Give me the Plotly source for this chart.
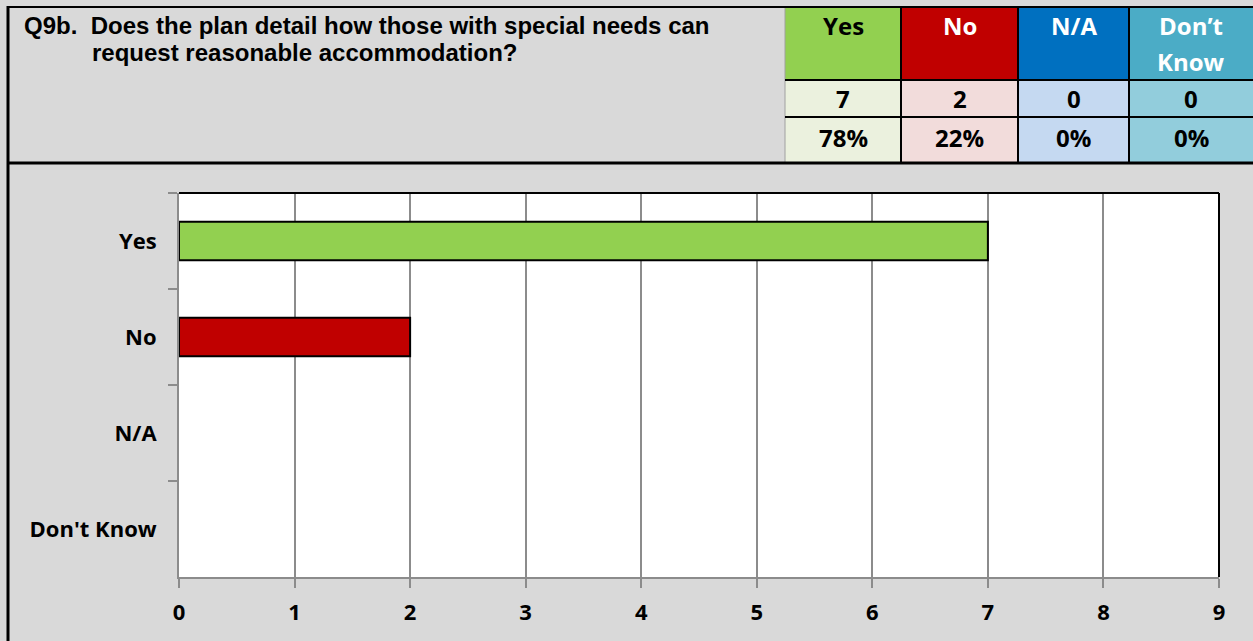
import plotly.graph_objects as go

categories = ["Yes", "No", "N/A", "Don't Know"]
counts = [7, 2, 0, 0]
percent_labels = ["78%", "22%", "0%", "0%"]
header_lines = [["Yes"], ["No"], ["N/A"], ["Don’t", "Know"]]
bar_colors = ["#92D050", "#C00000", "#0070C0", "#4BACC6"]
header_text_colors = ["#000000", "#FFFFFF", "#FFFFFF", "#FFFFFF"]
light_colors = ["#EBF1DE", "#F2DCDB", "#C5D9F1", "#92CDDC"]
title_line1 = "Q9b.  Does the plan detail how those with special needs can"
title_line2 = "request reasonable accommodation?"

W, H = 1253, 641
L, R, T, B = 179, 1219, 193, 577
TABLE_FONT = "Open Sans"


def px(x):
    return (x - L) / (R - L)


def py(y):
    return (B - y) / (B - T)


fig = go.Figure()
fig.add_trace(go.Bar(
    y=categories, x=counts, orientation="h",
    marker=dict(color=bar_colors, line=dict(color="#000000",
                                            width=[2 if c > 0 else 0 for c in counts])),
    width=0.4, hoverinfo="skip",
))

shapes = []
anns = []
col_edges = [785, 901, 1018, 1129, 1260]
row_edges = [7, 80, 117, 163]
for i in range(4):
    x0, x1 = col_edges[i], col_edges[i + 1]
    shapes.append(dict(type="rect", xref="paper", yref="paper", x0=px(x0), x1=px(x1),
                       y0=py(row_edges[1]), y1=py(row_edges[0]), fillcolor=bar_colors[i],
                       line=dict(width=0), layer="below"))
    for r in (1, 2):
        shapes.append(dict(type="rect", xref="paper", yref="paper", x0=px(x0), x1=px(x1),
                           y0=py(row_edges[r + 1]), y1=py(row_edges[r]), fillcolor=light_colors[i],
                           line=dict(width=0), layer="below"))
    xc = (x0 + min(x1, 1253)) / 2
    for j, line in enumerate(header_lines[i]):
        anns.append(dict(text=line, x=px(xc), y=py(25 + 36 * j), xref="paper", yref="paper",
                         xanchor="center", yanchor="middle", showarrow=False,
                         font=dict(family=TABLE_FONT, size=24, color=header_text_colors[i],
                                   weight="bold")))
    anns.append(dict(text=str(counts[i]), x=px(xc), y=py(99), xref="paper", yref="paper",
                     xanchor="center", yanchor="middle", showarrow=False,
                     font=dict(family=TABLE_FONT, size=24, color="#000000", weight="bold")))
    anns.append(dict(text=percent_labels[i], x=px(xc), y=py(138), xref="paper", yref="paper",
                     xanchor="center", yanchor="middle", showarrow=False,
                     font=dict(family=TABLE_FONT, size=24, color="#000000", weight="bold")))

for xe in col_edges[1:4]:
    shapes.append(dict(type="line", xref="paper", yref="paper", x0=px(xe), x1=px(xe),
                       y0=py(163), y1=py(7), line=dict(color="#000000", width=2)))
shapes.append(dict(type="line", xref="paper", yref="paper", x0=px(785), x1=px(785),
                   y0=py(163), y1=py(7), line=dict(color="#A0A0A0", width=1)))
for ye in (80, 117):
    shapes.append(dict(type="line", xref="paper", yref="paper", x0=px(785), x1=px(1260),
                       y0=py(ye), y1=py(ye), line=dict(color="#000000", width=2)))
shapes.append(dict(type="line", xref="paper", yref="paper", x0=px(7), x1=px(1260),
                   y0=py(7), y1=py(7), line=dict(color="#000000", width=2)))
shapes.append(dict(type="line", xref="paper", yref="paper", x0=px(7), x1=px(1260),
                   y0=py(163), y1=py(163), line=dict(color="#000000", width=3)))
shapes.append(dict(type="line", xref="paper", yref="paper", x0=px(8), x1=px(8),
                   y0=py(645), y1=py(6), line=dict(color="#000000", width=3)))
shapes.append(dict(type="line", xref="paper", yref="paper", x0=0, x1=1, y0=1, y1=1,
                   line=dict(color="#000000", width=2)))
shapes.append(dict(type="line", xref="paper", yref="paper", x0=1, x1=1, y0=0, y1=1,
                   line=dict(color="#000000", width=2)))

anns.append(dict(text=title_line1, x=px(22), y=py(25), xref="paper", yref="paper",
                 xanchor="left", yanchor="middle", showarrow=False,
                 font=dict(family="Liberation Sans", size=24, color="#000000", weight="bold")))
anns.append(dict(text=title_line2, x=px(90), y=py(52), xref="paper", yref="paper",
                 xanchor="left", yanchor="middle", showarrow=False,
                 font=dict(family="Liberation Sans", size=24, color="#000000", weight="bold")))

fig.update_layout(
    width=W, height=H,
    margin=dict(l=L, r=W - R, t=T, b=H - B, pad=0),
    paper_bgcolor="#D9D9D9", plot_bgcolor="#FFFFFF",
    showlegend=False, shapes=shapes, annotations=anns,
    xaxis=dict(range=[0, 9], dtick=1, tick0=0, showgrid=True, gridcolor="#8C8C8C", gridwidth=2,
               showline=True, linecolor="#8C8C8C", linewidth=2, ticks="outside", ticklen=9,
               tickcolor="#8C8C8C", tickwidth=2, zeroline=False, fixedrange=True,
               tickfont=dict(family=TABLE_FONT, size=22, color="#000000", weight="bold"),
               ticklabelstandoff=6),
    yaxis=dict(categoryorder="array", categoryarray=categories, autorange="reversed",
               showgrid=False, showline=True, linecolor="#8C8C8C", linewidth=2,
               ticks="outside", ticklen=9, tickcolor="#8C8C8C", tickwidth=2,
               tickson="boundaries", zeroline=False, fixedrange=True,
               tickfont=dict(family=TABLE_FONT, size=22, color="#000000", weight="bold"),
               ticklabelstandoff=16),
)

fig.write_html("out.html", config={"displayModeBar": False},
               post_script="document.body.style.margin='0';")
